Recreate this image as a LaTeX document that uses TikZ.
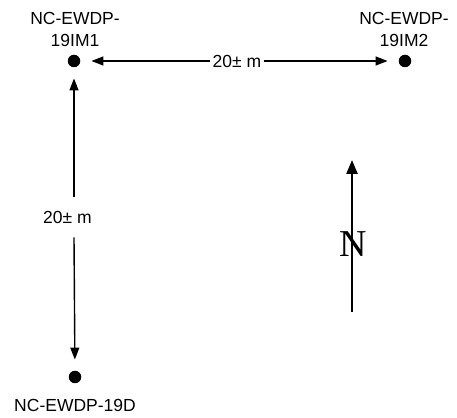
\documentclass[tikz,border=0pt]{standalone}
\usepackage{fontspec}
\setmainfont{Liberation Sans}
\newfontfamily\serifN{Liberation Serif}
\usetikzlibrary{arrows.meta}
\tikzset{
  well/.style={circle,fill=black,inner sep=0pt,minimum size=12.5pt},
  lbl/.style={font=\fontsize{17.5}{22}\selectfont,align=center,inner sep=0pt},
  dist/.style={font=\fontsize{17.5}{22}\selectfont,inner xsep=3pt,inner ysep=2pt},
  arr/.style={line width=1.4pt,-{Triangle[length=12pt,width=9pt]},shorten >=11pt},
  northarr/.style={line width=2.4pt,-{Triangle[length=14pt,width=11pt]}}
}
\begin{document}
\begin{tikzpicture}[x=1pt,y=1pt]
\useasboundingbox (0,0) rectangle (457,417);
\node[well] (d1) at (74,356) {};
\node[well] (d2) at (405,356) {};
\node[well] (d3) at (75,40) {};
\node[lbl] (l1) at (75,388) {NC-EWDP-\\19IM1};
\node[lbl] (l2) at (404,388) {NC-EWDP-\\19IM2};
\node[lbl] (l3) at (75,12) {NC-EWDP-19D};
\node[dist] (h) at (237,356) {20± m};
\node[dist,inner ysep=14pt] (v) at (67.5,200) {20± m};
\draw[arr] (h.west) -- (d1);
\draw[arr] (h.east) -- (d2);
\draw[arr] (d1 |- v.north) -- (d1);
\draw[arr] (d1 |- v.south) -- (d3);
\coordinate (nbot) at (352,105);
\coordinate (ntop) at (352,257);
\draw[northarr] (nbot) -- (ntop);
\node[font=\serifN\fontsize{38}{40}\selectfont,inner sep=0pt] (n) at (353,173) {N};
\end{tikzpicture}
\end{document}
